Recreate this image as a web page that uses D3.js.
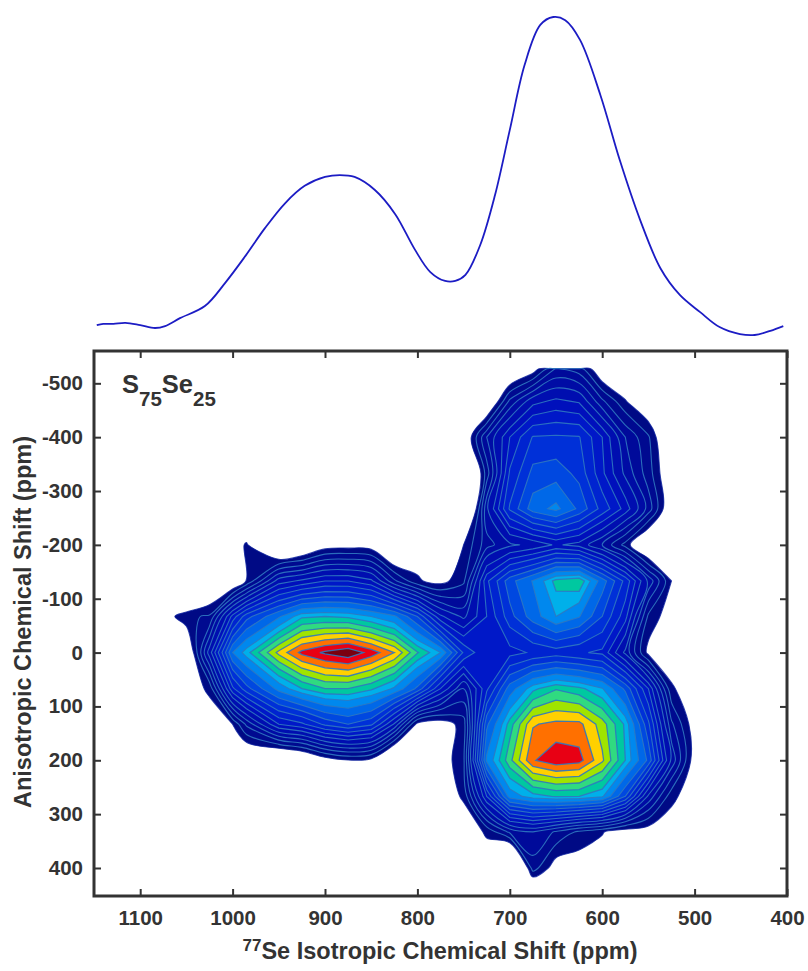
<!DOCTYPE html>
<html><head><meta charset="utf-8">
<script src="https://cdn.jsdelivr.net/npm/d3@7"></script>
<style>html,body{margin:0;padding:0;background:#fff}svg{display:block}
text{font-family:"Liberation Sans",Arial,sans-serif;font-weight:700;fill:#333}</style>
</head><body><div id="c"></div>
<script>
// ---- data ----
const xTicks=[1100,1000,900,800,700,600,500,400];
const yTicks=[-500,-400,-300,-200,-100,0,100,200,300,400];
const specPpm=[1147,1140,1129,1116,1100,1084,1073,1057,1030,1008,987,965,943,922,900,884,868,846,824,803,786,770,759,748,732,716,700,684,667,653,640,624,602,581,559,537,516,494,473,451,435,418,404];
const specInt=[3.1,3.5,3.5,3.8,3.1,2.2,2.8,5.3,9.1,16.4,24.5,33.6,41.5,46.9,49.7,50.3,49.7,45.6,38,27,19.8,17,17,18.9,28.3,44,64.5,84.9,97.5,100,99,92.8,75.5,55,36.2,21,12.6,7.2,2.5,0.3,0,1.3,2.8];
const isoPpm=[1075,1050,1025,1000,985,950,925,900,875,850,825,800,775,750,725,700,675,650,625,600,575,550,525,500];
const anisoPpm=[-527,-467,-400,-333,-267,-200,-133,-67,0,67,133,200,267,333,400,425];
const r0 =[0,0,0,0,0,0,0,0,0,0,0,0,0,0,0,-2,0,3.8,3,-1,-1,0,0,0];
const r1 =[0,0,0,0,0,0,0,0,0,0,0,0,0,-3,-2,4,7.2,8,7.5,4,1.1,-1,-3,0];
const r2 =[0,0,0,0,0,0,0,0,0,0,0,0,0,-1,5,9,11.8,11.9,11.8,9,5,2.5,-2,0];
const r3 =[0,0,0,0,0,0,0,0,0,0,0,0,0,-5,3,10.5,13.4,13.7,12.6,9.3,6,3,-1,0];
const r4 =[0,0,0,0,-2,0,0,0,0,0,0,0,0,-5,6,11.9,15,16.1,14,11.2,8.5,4.5,-1,0];
const r5 =[0,0,0,0,1.2,-3,-2,0,0.2,0,-3,0,0,1,4.5,6,6.7,7.9,7.2,5,1.8,-2,0,0];
const r6 =[0,-6,-2,-1.5,1.1,7,8,9,9,8,4,1.2,0.4,2,10,13.8,15.8,18.4,18.9,15,11.3,6,1,0];
const r7 =[0,2,2.5,9.5,12.5,15.5,17.8,18,17.8,17,16,13,8,6,9,12.5,15,17,15.8,13,9.5,2,0,0];
const r8 =[0,-1.7,7,15.7,17.6,21.3,23.3,24.2,24.8,23.6,22,19.1,17,11.5,9,9.8,10.5,11,10.5,10,6,0.5,0,0];
const r9 =[0,0,1.3,10,12.5,16.2,18,19,19,18.2,16.8,14,9,5,10,15,17.7,18.9,18.3,17.1,14,9,1.2,0];
const r10=[0,0,0,1,4,9,10,12,13,12,7.5,0.5,0,1.6,14,18.5,21.9,22.3,22.3,20.5,17.8,12,4,0];
const r11=[0,0,0,0,-2,-3,-2,0,0.9,0.5,-4,0,0,2,16,19.7,22.9,23.7,23.4,21.2,18,14,6,0];
const r12=[0,0,0,0,0,0,0,0,0,0,0,0,0,1.2,9,16.3,17.6,18.1,18,17.2,13,6,1.4,0];
const r13=[0,0,0,0,0,0,0,0,0,0,0,0,0,0,1.2,4,5,3.5,2,1.1,0,0,0,0];
const r14=[0,0,0,0,0,0,0,0,0,0,0,0,0,0,0,-6,3,0,0,0,0,0,0,0];
const r15=[0,0,0,0,0,0,0,0,0,0,0,0,0,0,0,0,0,0,0,0,0,0,0,0];
const rows=[r0,r1,r2,r3,r4,r5,r6,r7,r8,r9,r10,r11,r12,r13,r14,r15];
const levels=[1,2.3,3.7,5,6.3,7.7,9,10.3,11.7,13,14.3,15.7,17,18,19,20,21,22,23,24];
const levelColors=["#000a85","#000a90","#000a9a","#000ca5","#000eb0","#0010bc","#0018c8","#0024d0","#0030d8","#0048e0","#0068e8","#0088ee","#00b0ea","#00c8a0","#30da80","#a0e400","#ffd000","#ff7000","#e80014","#7a0010"];

// ---- layout ----
const W=808,H=971,L=94,R=787,T=351,B=896;
const svg=d3.select("#c").append("svg").attr("width",W).attr("height",H);
const x=d3.scaleLinear().domain([1150,400]).range([L,R]);
const y=d3.scaleLinear().domain([-560,452]).range([T,B]);
const yS=d3.scaleLinear().domain([0,100]).range([335,17]);

// ---- spectrum ----
svg.append("path").datum(specPpm.map((p,i)=>[p,specInt[i]]))
 .attr("fill","none").attr("stroke","#1c1cc4").attr("stroke-width",1.8)
 .attr("d",d3.line().x(d=>x(d[0])).y(d=>yS(d[1])).curve(d3.curveCatmullRom.alpha(.5)));

// ---- contours ----
const nc=isoPpm.length,nr=rows.length;
const ix=d3.scaleLinear().domain(d3.range(nc)).range(isoPpm).clamp(true);
const iy=d3.scaleLinear().domain(d3.range(nr)).range(anisoPpm).clamp(true);
const cont=d3.contours().size([nc,nr]).thresholds(levels)(rows.flat());
const lnSmooth=d3.line().curve(d3.curveCatmullRomClosed.alpha(.5));
const lnStraight=d3.line().curve(d3.curveLinearClosed);
const ringPath=(g,i)=>g.coordinates.flatMap(poly=>poly.map(ring=>{
  const pts=ring.slice(0,-1).map(p=>[x(ix(p[0]-.5)),y(iy(p[1]-.5))]);
  return (i<5?lnSmooth:lnStraight)(pts);
})).join("");
svg.append("defs").append("clipPath").attr("id","pl").append("rect").attr("x",L).attr("y",T).attr("width",R-L).attr("height",B-T);
svg.append("g").attr("clip-path","url(#pl)").selectAll("path").data(cont).join("path")
 .attr("d",ringPath).attr("fill-rule","evenodd")
 .attr("fill",(d,i)=>levelColors[i])
 .attr("stroke",(d,i)=>i==0?"#0a1f9c":"#2f78c0").attr("stroke-width",(d,i)=>i>=13?1.3:1.1).attr("stroke-opacity",(d,i)=>i==0?.8:.9);

// ---- frame and axes ----
const frame="#333";
svg.append("rect").attr("x",L).attr("y",T).attr("width",R-L).attr("height",B-T).attr("fill","none").attr("stroke",frame).attr("stroke-width",3);
const styleAxis=g=>{g.select(".domain").remove();g.selectAll("line").attr("stroke",frame).attr("stroke-width",2);g.selectAll("text").attr("font-size",20.5).attr("fill",frame);};
svg.append("g").attr("transform",`translate(0,${B})`).call(d3.axisBottom(x).tickValues(xTicks).tickSize(-7).tickPadding(14).tickFormat(String)).call(styleAxis);
svg.append("g").attr("transform",`translate(0,${T})`).call(d3.axisTop(x).tickValues(xTicks).tickSize(-7).tickFormat("")).call(styleAxis);
svg.append("g").attr("transform",`translate(${L},0)`).call(d3.axisLeft(y).tickValues(yTicks).tickSize(-7).tickPadding(11).tickFormat(String)).call(styleAxis);
svg.append("g").attr("transform",`translate(${R},0)`).call(d3.axisRight(y).tickValues(yTicks).tickSize(-7).tickFormat("")).call(styleAxis);

// ---- text ----
const xl=svg.append("text").attr("x",440).attr("y",959).attr("text-anchor","middle").attr("font-size",23.5);
xl.append("tspan").attr("dy",-8).attr("font-size",17).text("77");
xl.append("tspan").attr("dy",8).text("Se Isotropic Chemical Shift (ppm)");
svg.append("text").attr("transform","translate(31,622) rotate(-90)").attr("text-anchor","middle").attr("font-size",23.5).text("Anisotropic Chemical Shift (ppm)");
const lab=svg.append("text").attr("x",122).attr("y",393).attr("font-size",25.5).attr("fill","#222");
lab.append("tspan").text("S");
lab.append("tspan").attr("dy",13).attr("font-size",20.5).text("75");
lab.append("tspan").attr("dy",-13).text("Se");
lab.append("tspan").attr("dy",13).attr("font-size",20.5).text("25");
</script></body></html>
